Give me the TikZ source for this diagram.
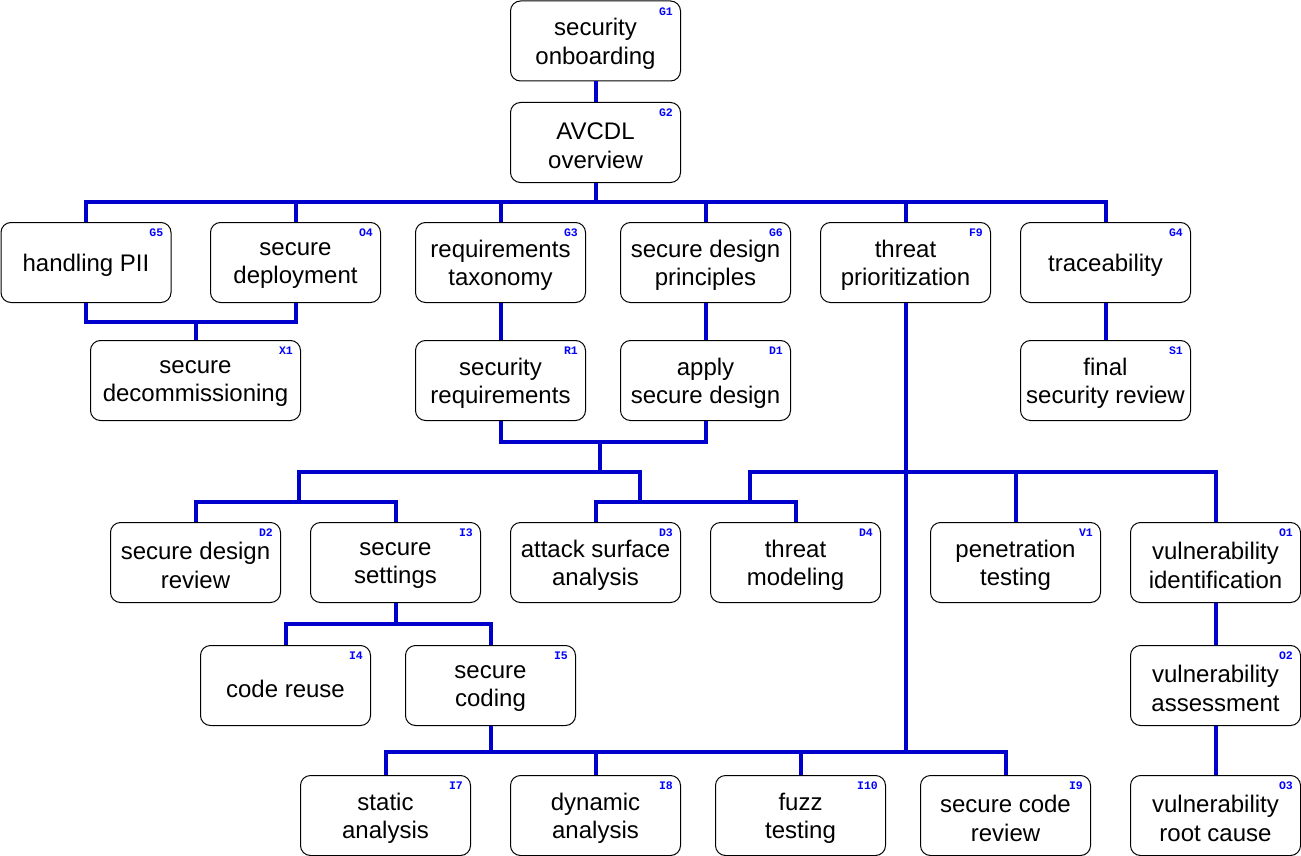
\documentclass[tikz,border=0pt]{standalone}
\usepackage{fontspec}
\setmainfont{Liberation Sans}
\newfontfamily\labfont{Liberation Mono}
\usetikzlibrary{calc}
\definecolor{conncol}{HTML}{0000CC}
\definecolor{labblue}{HTML}{0000FF}
\tikzset{
  box/.style={draw=black, line width=1pt, rounded corners=10pt, minimum width=170pt,
    minimum height=80pt, inner sep=0pt, anchor=north west, fill=white},
  boxtext/.style={align=center, inner sep=0pt, font=\fontsize{24}{28.5}\selectfont},
  link/.style={draw=conncol, line width=4pt, line join=miter},
  tag/.style={font=\labfont\bfseries\fontsize{11.5}{13}\selectfont, text=labblue,
    anchor=east, inner sep=0pt}
}
\newcommand\mybox[4][]{%
  \node[box,#1] (#2) at (#3) {};
  \node[boxtext] (#2txt) at ($(#2.center)+(0,3)$) {#4};
  \node[tag] (#2tag) at ($(#2.north east)+(-8,11)$) {#2};}
\begin{document}
\begin{tikzpicture}[x=1pt,y=-1pt]
\useasboundingbox (0,0) rectangle (1301,856);
% row 0/1
\mybox{G1}{510,0.5}{security\\onboarding}
\mybox{G2}{510,102}{AVCDL\\overview}
% row 2
\mybox{G5}{0.5,222}{handling PII}
\mybox{O4}{210,222}{secure\\deployment}
\mybox{G3}{415,222}{requirements\\taxonomy}
\mybox{G6}{620,222}{secure design\\principles}
\mybox{F9}{820,222}{threat\\prioritization}
\mybox{G4}{1020,222}{traceability}
% row 3
\mybox[minimum width=210pt]{X1}{90,340}{secure\\decommissioning}
\mybox{R1}{415,340}{security\\requirements}
\mybox{D1}{620,340}{apply\\secure design}
\mybox{S1}{1020,340}{final\\security review}
% row 4
\mybox{D2}{110,522}{secure design\\review}
\mybox{I3}{310,522}{secure\\settings}
\mybox{D3}{510,522}{attack surface\\analysis}
\mybox{D4}{710,522}{threat\\modeling}
\mybox{V1}{930,522}{penetration\\testing}
\mybox{O1}{1130,522}{vulnerability\\identification}
% row 5
\mybox{I4}{200,645}{code reuse}
\mybox{I5}{405,645}{secure\\coding}
\mybox{O2}{1130,645}{vulnerability\\assessment}
% row 6
\mybox{I7}{300,775}{static\\analysis}
\mybox{I8}{510,775}{dynamic\\analysis}
\mybox{I10}{715,775}{fuzz\\testing}
\mybox{I9}{920,775}{secure code\\review}
\mybox{O3}{1130,775}{vulnerability\\root cause}
% bus levels and junctions
\coordinate (busA) at (0,202);
\coordinate (busB) at (0,322);
\coordinate (busC) at (0,442);
\coordinate (busD) at (0,472);
\coordinate (busE) at (0,502);
\coordinate (busF) at (0,624);
\coordinate (busG) at (0,752);
\coordinate (jRD) at (600,442);
\coordinate (jL) at (299,472);
\coordinate (jM) at (640,472);
\coordinate (jF) at (750,472);
% connectors
\draw[link] (G1) -- (G2);
\draw[link] (G2.south) -- (G2.south |- busA);
\draw[link] (G5.north) -- (G5.north |- busA) -- (G4.north |- busA) -- (G4.north);
\foreach \n in {O4,G3,G6,F9} \draw[link] (\n.north) -- (\n.north |- busA);
\draw[link] (G5.south) -- (G5.south |- busB) -- (O4.south |- busB) -- (O4.south);
\draw[link] (X1.north) -- (X1.north |- busB);
\draw[link] (G3) -- (R1);
\draw[link] (G6) -- (D1);
\draw[link] (G4) -- (S1);
\draw[link] (O1) -- (O2);
\draw[link] (O2) -- (O3);
\draw[link] (R1.south) -- (R1.south |- busC) -- (D1.south |- busC) -- (D1.south);
\draw[link] (jRD) -- (jRD |- busD);
\draw[link] (jL |- busE) -- (jL) -- (jM) -- (jM |- busE);
\draw[link] (D2.north) -- (D2.north |- busE) -- (I3.north |- busE) -- (I3.north);
\draw[link] (D3.north) -- (D3.north |- busE) -- (D4.north |- busE) -- (D4.north);
\draw[link] (F9.south) -- (F9.south |- busG);
\draw[link] (jF |- busE) -- (jF) -- (O1.north |- busD) -- (O1.north);
\draw[link] (V1.north) -- (V1.north |- busD);
\draw[link] (I3.south) -- (I3.south |- busF);
\draw[link] (I4.north) -- (I4.north |- busF) -- (I5.north |- busF) -- (I5.north);
\draw[link] (I5.south) -- (I5.south |- busG);
\draw[link] (I7.north) -- (I7.north |- busG) -- (I9.north |- busG) -- (I9.north);
\draw[link] (I8.north) -- (I8.north |- busG);
\draw[link] (I10.north) -- (I10.north |- busG);
\end{tikzpicture}
\end{document}
